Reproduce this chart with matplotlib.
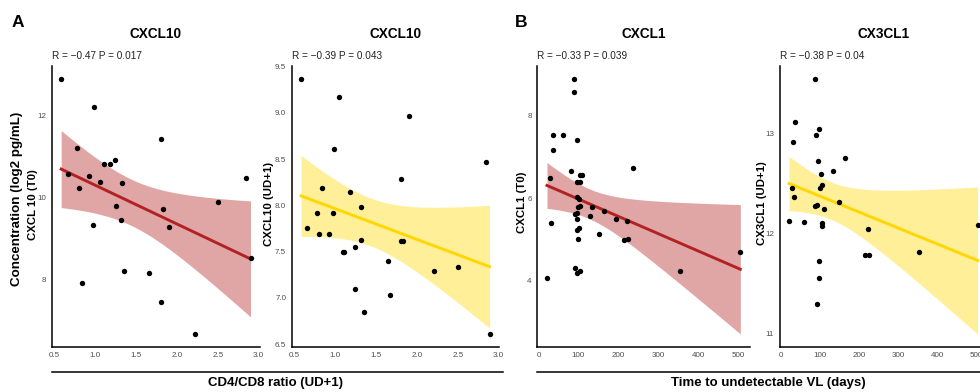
"""
Chemokine correlation panels (A: CD4/CD8 ratio, B: time to undetectable VL).
Scatter + linear fit with 95% confidence band, ggplot-like styling.
"""

import numpy as np
import matplotlib
matplotlib.use("Agg")
import matplotlib.pyplot as plt
from matplotlib.lines import Line2D

plt.rcParams["font.family"] = ["Liberation Sans", "DejaVu Sans"]

# ──────────────────────────────────────────────────────────────
# Data
# ──────────────────────────────────────────────────────────────

# Panel A1: CD4/CD8 ratio (UD+1) vs CXCL10 at T0
ratio_t0 = [0.58, 0.985, 1.80, 2.85, 0.78, 0.66, 0.92, 1.05, 0.80, 1.10, 1.18,
            1.24, 1.32, 1.25, 1.83, 2.50, 0.97, 1.31, 1.90, 2.90, 1.35, 1.65,
            0.84, 1.80, 2.22]
cxcl10_t0 = [12.90, 12.21, 11.43, 10.48, 11.22, 10.58, 10.53, 10.39, 10.23,
             10.82, 10.83, 10.91, 10.35, 9.80, 9.72, 9.88, 9.34, 9.44, 9.27,
             8.53, 8.20, 8.16, 7.91, 7.46, 6.67]

# Panel A2: CD4/CD8 ratio (UD+1) vs CXCL10 at UD+1
ratio_ud = [0.58, 1.045, 1.90, 0.98, 2.85, 1.80, 0.84, 1.176, 1.32, 0.78, 0.97,
            0.655, 0.80, 0.92, 1.31, 1.095, 1.11, 1.245, 1.80, 1.83, 1.64,
            2.21, 2.50, 1.24, 1.67, 1.35, 2.89]
cxcl10_ud = [9.37, 9.17, 8.97, 8.61, 8.47, 8.29, 8.19, 8.15, 7.98, 7.92, 7.92,
             7.76, 7.69, 7.69, 7.63, 7.50, 7.50, 7.55, 7.62, 7.62, 7.40, 7.29,
             7.33, 7.10, 7.03, 6.85, 6.61]

# Panel B1: time to undetectable VL vs CXCL1 at T0
days_t0 = [89, 89, 36, 61, 97, 35, 237, 81, 104, 109, 29, 95, 104, 95, 101, 98,
           104, 134, 164, 90, 95, 128, 96, 194, 31, 221, 95, 101, 151, 98, 215,
           225, 505, 353, 90, 97, 104, 21]
cxcl1_t0 = [8.89, 8.58, 7.54, 7.52, 7.41, 7.17, 6.73, 6.67, 6.57, 6.57, 6.50,
            6.40, 6.40, 6.04, 5.99, 5.79, 5.80, 5.79, 5.69, 5.62, 5.64, 5.57,
            5.50, 5.50, 5.40, 5.44, 5.23, 5.27, 5.14, 5.01, 4.99, 5.01, 4.71,
            4.24, 4.30, 4.18, 4.24, 4.07]

# Panel B2: time to undetectable VL vs CX3CL1 at UD+1
days_ud = [88, 35, 97, 89, 30, 164, 96, 134, 103, 105, 101, 28, 34, 88, 93, 110,
           150, 21, 60, 105, 105, 504, 222, 215, 225, 355, 97, 98, 93]
cx3cl1_ud = [13.55, 13.12, 13.05, 12.99, 12.92, 12.76, 12.73, 12.63, 12.60,
             12.48, 12.45, 12.45, 12.36, 12.27, 12.28, 12.24, 12.31, 12.12,
             12.11, 12.10, 12.07, 12.08, 12.04, 11.78, 11.78, 11.81, 11.72,
             11.55, 11.29]

# ──────────────────────────────────────────────────────────────
# Helpers
# ──────────────────────────────────────────────────────────────

W, H = 980, 392
RED, YELLOW = "#B22222", "#FFD700"
TICK_GREY = "#4D4D4D"


def _t975(df):
    # Cornish-Fisher expansion of the Student t 97.5% quantile
    z = 1.959964
    return (z + (z**3 + z) / (4 * df)
            + (5 * z**5 + 16 * z**3 + 3 * z) / (96 * df**2))


def _fit_band(x, y, n=120):
    x, y = np.asarray(x, float), np.asarray(y, float)
    b, a = np.polyfit(x, y, 1)
    xs = np.linspace(x.min(), x.max(), n)
    resid = y - (a + b * x)
    s = np.sqrt(np.sum(resid**2) / (len(x) - 2))
    se = s * np.sqrt(1 / len(x) + (xs - x.mean())**2 / np.sum((x - x.mean())**2))
    fit = a + b * xs
    t = _t975(len(x) - 2)
    return xs, fit, fit - t * se, fit + t * se


def _px_axes(fig, left, right, top=66, bottom=346.7):
    return fig.add_axes([left / W, (H - bottom) / H,
                         (right - left) / W, (bottom - top) / H])


def _panel(ax, x, y, color, title, stat, xticks, yticks, xfmt, yfmt):
    xs, fit, lo, hi = _fit_band(x, y)
    ax.fill_between(xs, lo, hi, color=color, alpha=0.4, lw=0, zorder=1)
    ax.plot(xs, fit, color=color, lw=2.1, zorder=2)
    ax.scatter(x, y, s=15, color="black", lw=0, zorder=3)

    # ggplot-style 5% expansion over data + ribbon
    x0, x1 = min(x), max(x)
    y0, y1 = min(min(y), lo.min()), max(max(y), hi.max())
    ax.set_xlim(x0 - 0.05 * (x1 - x0), x1 + 0.05 * (x1 - x0))
    ax.set_ylim(y0 - 0.05 * (y1 - y0), y1 + 0.05 * (y1 - y0))

    ax.set_xticks(xticks)
    ax.set_xticklabels([xfmt.format(v) for v in xticks])
    ax.set_yticks(yticks)
    ax.set_yticklabels([yfmt.format(v) for v in yticks])
    ax.tick_params(length=0, pad=4, labelsize=5.8, labelcolor=TICK_GREY)

    for side in ("top", "right"):
        ax.spines[side].set_visible(False)
    for side in ("left", "bottom"):
        ax.spines[side].set_linewidth(1.1)

    h = ax.get_position().height * H
    ax.text(0.5, 1 + 32 / h, title, transform=ax.transAxes, ha="center",
            va="center", fontsize=9.8, fontweight="bold")
    ax.text(0.0, 1 + 9.5 / h, stat, transform=ax.transAxes, ha="left",
            va="center", fontsize=7.2, color="#222222")


# ──────────────────────────────────────────────────────────────
# Figure
# ──────────────────────────────────────────────────────────────

fig = plt.figure(figsize=(W / 100, H / 100), dpi=100)

ax1 = _px_axes(fig, 51.7, 260)
_panel(ax1, ratio_t0, cxcl10_t0, RED, "CXCL10", "R = \u22120.47 P = 0.017",
       [0.5, 1.0, 1.5, 2.0, 2.5, 3.0], [8, 10, 12], "{:.1f}", "{:d}")

ax2 = _px_axes(fig, 291.7, 499)
_panel(ax2, ratio_ud, cxcl10_ud, YELLOW, "CXCL10", "R = \u22120.39 P = 0.043",
       [0.5, 1.0, 1.5, 2.0, 2.5, 3.0], [6.5, 7.0, 7.5, 8.0, 8.5, 9.0, 9.5],
       "{:.1f}", "{:.1f}")

ax3 = _px_axes(fig, 537.3, 750)
_panel(ax3, days_t0, cxcl1_t0, RED, "CXCL1", "R = \u22120.33 P = 0.039",
       [0, 100, 200, 300, 400, 500], [4, 6, 8], "{:d}", "{:d}")

# last panel runs past the right edge of the canvas (cropped in the original)
ax4 = _px_axes(fig, 779.7, 987)
_panel(ax4, days_ud, cx3cl1_ud, YELLOW, "CX3CL1", "R = \u22120.38 P = 0.04",
       [0, 100, 200, 300, 400, 500], [11, 12, 13], "{:d}", "{:d}")

# y labels
ylab = dict(rotation=90, ha="center", va="center", fontweight="bold")
fig.text(17 / W, 1 - 199 / H, "Concentration (log2 pg/mL)", fontsize=9.6, **ylab)
fig.text(32.5 / W, 1 - 205 / H, "CXCL 10 (T0)", fontsize=8.2, **ylab)
fig.text(269 / W, 1 - 204 / H, "CXCL10 (UD+1)", fontsize=8.2, **ylab)
fig.text(521.5 / W, 1 - 202 / H, "CXCL1 (T0)", fontsize=8.2, **ylab)
fig.text(762 / W, 1 - 203 / H, "CX3CL1 (UD+1)", fontsize=8.2, **ylab)

# shared x labels with rule above them
for x0, x1 in ((51.7, 502.7), (537.3, 985)):
    fig.add_artist(Line2D([x0 / W, x1 / W], [1 - 371.7 / H] * 2,
                          color="black", lw=1.1))
fig.text(276 / W, 1 - 383 / H, "CD4/CD8 ratio (UD+1)", ha="center", va="center",
         fontsize=9.5, fontweight="bold")
fig.text(768 / W, 1 - 383 / H, "Time to undetectable VL (days)", ha="center",
         va="center", fontsize=9.5, fontweight="bold")

# panel letters
fig.text(17.5 / W, 1 - 22.5 / H, "A", ha="center", va="center", fontsize=12.5,
         fontweight="bold")
fig.text(521 / W, 1 - 22.5 / H, "B", ha="center", va="center", fontsize=12.5,
         fontweight="bold")

fig.savefig("out.png", dpi=100)
